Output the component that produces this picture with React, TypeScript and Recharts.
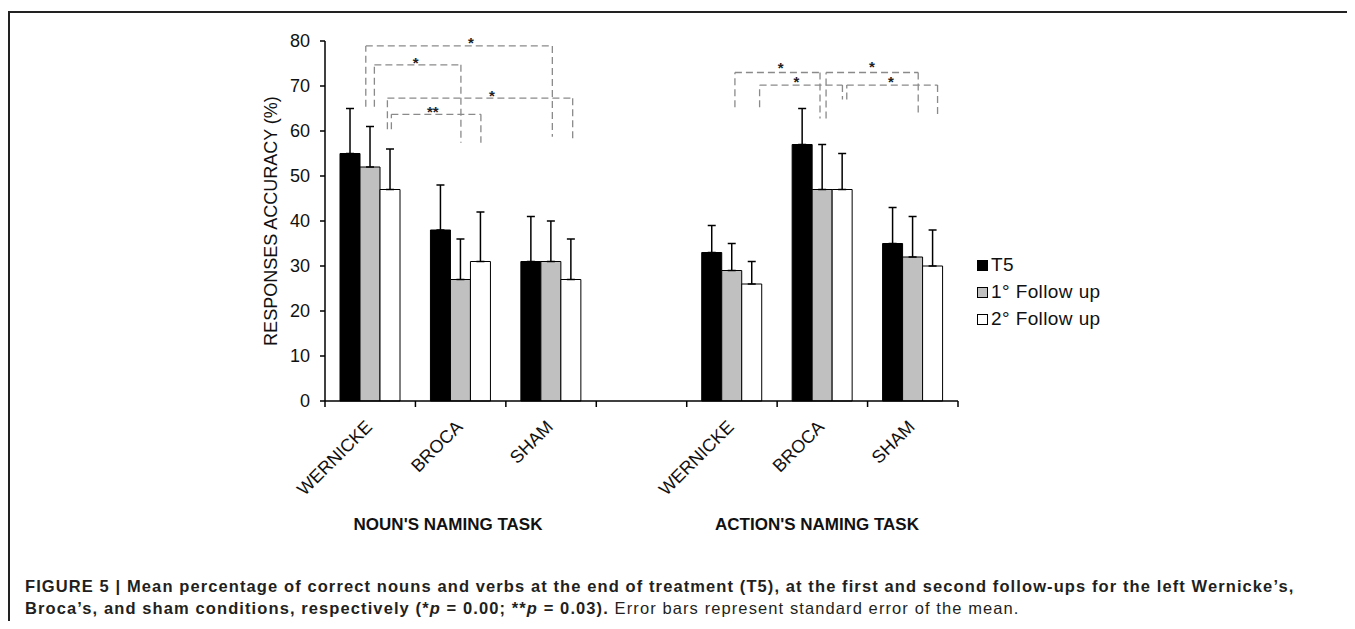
import { BarChart, Bar, XAxis, YAxis, ErrorBar, ReferenceLine, ReferenceDot } from "recharts"

const categories = ["WERNICKE", "BROCA", "SHAM", "", "WERNICKE", "BROCA", "SHAM"]
const t5 = [55, 38, 31, null, 33, 57, 35]
const t5Err = [10, 10, 10, null, 6, 8, 8]
const fu1 = [52, 27, 31, null, 29, 47, 32]
const fu1Err = [9, 9, 9, null, 6, 10, 9]
const fu2 = [47, 31, 27, null, 26, 47, 30]
const fu2Err = [9, 11, 9, null, 5, 8, 8]
const yTicks = [0, 10, 20, 30, 40, 50, 60, 70, 80]

// significance brackets, x in category units (0..7), y in %
const brackets = [
  { x1: 0.451, x2: 2.514, top: 78.9, l: 65.4, r: 58.7, sx: 1.614, sy: 80.2, mark: "*" },
  { x1: 0.546, x2: 1.503, top: 74.7, l: 65.4, r: 57.4, sx: 1.004, sy: 75.8, mark: "*" },
  { x1: 0.69, x2: 2.739, top: 67.3, l: 60.4, r: 58.1, sx: 1.846, sy: 68.5, mark: "*" },
  { x1: 0.734, x2: 1.724, top: 63.7, l: 60.4, r: 57.4, sx: 1.193, sy: 65.0, mark: "**" },
  { x1: 4.533, x2: 5.474, top: 73.0, l: 65.3, r: 62.8, sx: 5.039, sy: 74.7, mark: "*" },
  { x1: 4.806, x2: 5.722, top: 70.2, l: 65.3, r: 67.0, sx: 5.213, sy: 71.5, mark: "*" },
  { x1: 5.541, x2: 6.56, top: 73.0, l: 62.8, r: 63.7, sx: 6.047, sy: 74.9, mark: "*" },
  { x1: 5.77, x2: 6.774, top: 70.2, l: 67.0, r: 63.0, sx: 6.257, sy: 71.5, mark: "*" },
]

const series = [
  { key: "t5", err: "t5e", name: "T5", fill: "#000000" },
  { key: "fu1", err: "fu1e", name: "1° Follow up", fill: "#c0c0c0" },
  { key: "fu2", err: "fu2e", name: "2° Follow up", fill: "#ffffff" },
]

const data = categories.map((name, i) => ({
  name,
  pos: i + 0.5,
  t5: t5[i],
  t5e: t5Err[i] == null ? undefined : [0, t5Err[i]],
  fu1: fu1[i],
  fu1e: fu1Err[i] == null ? undefined : [0, fu1Err[i]],
  fu2: fu2[i],
  fu2e: fu2Err[i] == null ? undefined : [0, fu2Err[i]],
}))

const numTicks = Array.from({ length: 15 }, (_, i) => i / 2)
const FONT = "'Liberation Sans', Arial, sans-serif"
const dash = { stroke: "#8a8a8a", strokeWidth: 1.3, strokeDasharray: "7 4", ifOverflow: "visible" as const }

function AxisTick(props: any) {
  const { x, y, payload } = props
  const v = payload.value
  if (Number.isInteger(v)) {
    return <line x1={x} x2={x} y1={y} y2={y + 6} stroke="#000" strokeWidth={1.5} />
  }
  const label = categories[Math.floor(v)]
  const ax = x + 3
  const ay = y + 27
  return (
    <text x={ax} y={ay} textAnchor="end" transform={`rotate(-45 ${ax} ${ay})`} fontSize={18} fill="#111" fontFamily={FONT}>
      {label}
    </text>
  )
}

function Star(props: any) {
  const { cx, cy, mark } = props
  return (
    <text x={cx} y={cy + 8} textAnchor="middle" fontSize={15} fontWeight="bold" fill="#222" fontFamily={FONT}>
      {mark}
    </text>
  )
}

const taskLabel = {
  position: "absolute" as const,
  top: 533,
  transform: "translate(-50%, -100%)",
  fontSize: 17,
  fontWeight: "bold" as const,
  color: "#111",
  whiteSpace: "nowrap" as const,
  lineHeight: "17px",
}

export default function App() {
  return (
    <div style={{ position: "relative", width: 1355, height: 629, margin: -8, overflow: "hidden", background: "#fff", fontFamily: FONT }}>
      <div style={{ position: "absolute", left: 8, top: 11, width: 1346, height: 700, border: "2px solid #222", boxSizing: "border-box" }} />
      <div style={{ position: "absolute", left: 0, top: 0 }}>
        <BarChart
          width={1355}
          height={629}
          data={data}
          margin={{ top: 41, right: 397, left: 265, bottom: 128 }}
          barCategoryGap="16.6%"
          barGap={0}
        >
          <XAxis xAxisId="cat" dataKey="name" hide height={0} />
          <XAxis
            xAxisId="num"
            dataKey="pos"
            type="number"
            domain={[0, 7]}
            allowDataOverflow
            ticks={numTicks}
            interval={0}
            tick={<AxisTick />}
            tickLine={false}
            tickSize={0}
            tickMargin={0}
            height={100}
            axisLine={{ stroke: "#000", strokeWidth: 1.5 }}
          />
          <YAxis
            domain={[0, 80]}
            ticks={yTicks}
            interval={0}
            width={60}
            tickSize={5}
            tickMargin={10}
            tick={{ fontSize: 18, fill: "#111", fontFamily: FONT }}
            tickLine={{ stroke: "#000", strokeWidth: 1.5 }}
            axisLine={{ stroke: "#000", strokeWidth: 1.5 }}
            label={{
              value: "RESPONSES ACCURACY (%)",
              angle: -90,
              position: "insideLeft",
              offset: 6,
              style: { textAnchor: "middle", fontSize: 18, fill: "#111", fontFamily: FONT },
            }}
          />
          {series.map((s) => (
            <Bar key={s.key} xAxisId="cat" dataKey={s.key} fill={s.fill} stroke="#000" strokeWidth={1} isAnimationActive={false}>
              <ErrorBar dataKey={s.err} width={4} stroke="#000" strokeWidth={1.5} direction="y" />
            </Bar>
          ))}
          {brackets.map((b, i) => [
            <ReferenceLine key={`l${i}`} xAxisId="num" segment={[{ x: b.x1, y: b.l }, { x: b.x1, y: b.top }]} {...dash} />,
            <ReferenceLine key={`t${i}`} xAxisId="num" segment={[{ x: b.x1, y: b.top }, { x: b.x2, y: b.top }]} {...dash} />,
            <ReferenceLine key={`r${i}`} xAxisId="num" segment={[{ x: b.x2, y: b.top }, { x: b.x2, y: b.r }]} {...dash} />,
            <ReferenceDot
              key={`s${i}`}
              xAxisId="num"
              x={b.sx}
              y={b.sy}
              r={0}
              ifOverflow="visible"
              shape={(p: any) => <Star {...p} mark={b.mark} />}
            />,
          ])}
        </BarChart>
      </div>
      {series.map((s, i) => (
        <div key={s.key} style={{ position: "absolute", left: 977, top: 265 + i * 27 - 11, height: 22, display: "flex", alignItems: "center", fontSize: 19, letterSpacing: 0.4, color: "#111" }}>
          <span style={{ display: "inline-block", width: 9, height: 9, background: s.fill, border: "1px solid #000", marginRight: 3 }} />
          {s.name}
        </div>
      ))}
      <div style={{ ...taskLabel, left: 448 }}>NOUN'S NAMING TASK</div>
      <div style={{ ...taskLabel, left: 817 }}>ACTION'S NAMING TASK</div>
      <div style={{ position: "absolute", left: 25, top: 575, fontSize: 16.5, letterSpacing: 1.1, lineHeight: "22px", color: "#231f20", whiteSpace: "nowrap" }}>
        <b>FIGURE 5 | Mean percentage of correct nouns and verbs at the end of treatment (T5), at the first and second follow-ups for the left Wernicke’s,</b>
        <br />
        <b>
          Broca’s, and sham conditions, respectively (*<i>p</i> = 0.00; **<i>p</i> = 0.03).
        </b>{" "}
        Error bars represent standard error of the mean.
      </div>
    </div>
  )
}
